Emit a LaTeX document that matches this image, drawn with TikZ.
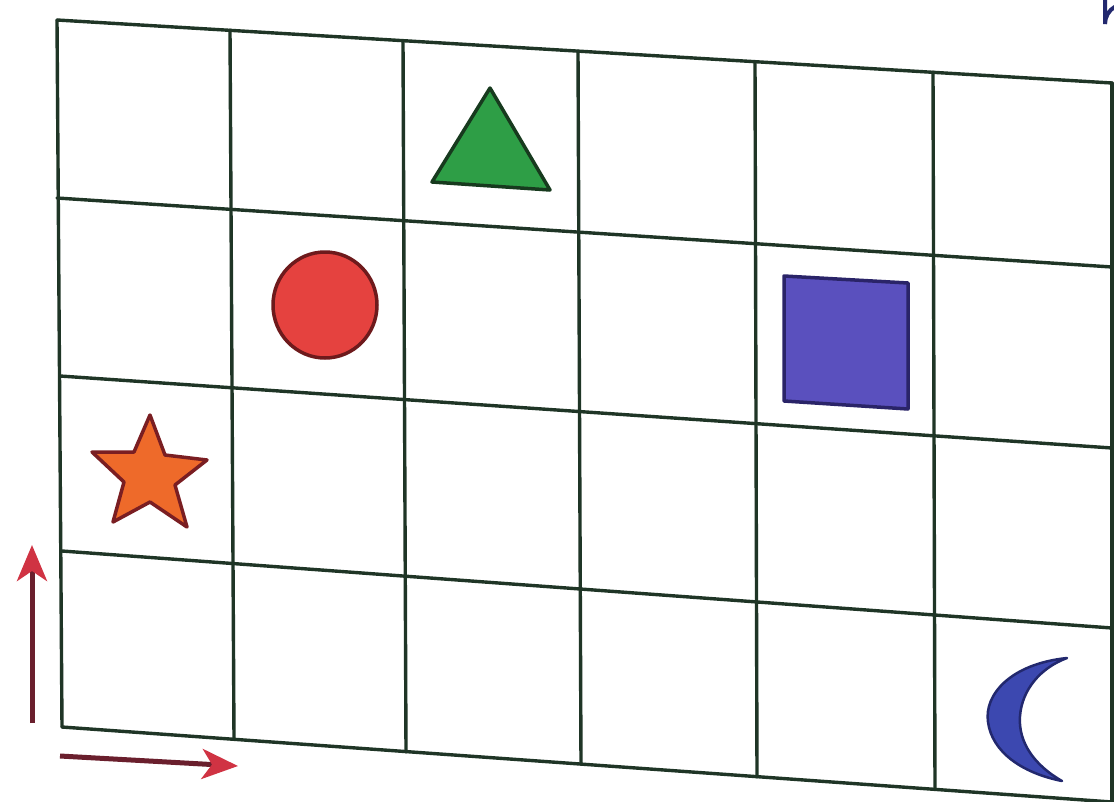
\documentclass[tikz,border=0pt]{standalone}
\usetikzlibrary{arrows.meta}
\definecolor{gridc}{HTML}{1F3526}
\definecolor{trifill}{HTML}{2E9E46}
\definecolor{triedge}{HTML}{173A1E}
\definecolor{circfill}{HTML}{E5423F}
\definecolor{circedge}{HTML}{6E1A1C}
\definecolor{sqfill}{HTML}{5A50BE}
\definecolor{sqedge}{HTML}{2A2468}
\definecolor{starfill}{HTML}{EE6A2A}
\definecolor{staredge}{HTML}{7A1E22}
\definecolor{moonfill}{HTML}{3C48B0}
\definecolor{moonedge}{HTML}{22286E}
\definecolor{arrshaft}{HTML}{6A1F2D}
\definecolor{arrhead}{HTML}{D03343}
\begin{document}
\begin{tikzpicture}[x=1pt,y=-1pt,
  gridline/.style={draw=gridc,line width=3.4pt,line cap=round},
  shapeedge/.style={line width=3.5pt,line join=round},
  axisarrow/.style={draw=arrshaft,line width=5pt,
    -{Stealth[length=36pt,width=30pt,inset=10pt,fill=arrhead,color=arrhead]}}]
\useasboundingbox (0,0) rectangle (1114,801);
\fill[white] (0,0) rectangle (1114,801);

% horizontal grid lines
\coordinate (h0l) at (57,20);   \coordinate (h0r) at (1112,83);
\coordinate (h1l) at (57,198);  \coordinate (h1r) at (1112,267);
\coordinate (h2l) at (60,376);  \coordinate (h2r) at (1112,448);
\coordinate (h3l) at (62,551);  \coordinate (h3r) at (1112,628);
\coordinate (h4l) at (62,727);  \coordinate (h4r) at (1112,802);
% vertical grid lines
\coordinate (v0t) at (57,20);   \coordinate (v0b) at (62,727);
\coordinate (v1t) at (230,30);  \coordinate (v1b) at (234,739);
\coordinate (v2t) at (403,41);  \coordinate (v2b) at (406,752);
\coordinate (v3t) at (578,51);  \coordinate (v3b) at (581,764);
\coordinate (v4t) at (755,62);  \coordinate (v4b) at (757,777);
\coordinate (v5t) at (933,72);  \coordinate (v5b) at (935,789);
\coordinate (v6t) at (1112,83); \coordinate (v6b) at (1112,802);

\foreach \i in {0,...,4} \draw[gridline] (h\i l) -- (h\i r);
\foreach \i in {0,...,6} \draw[gridline] (v\i t) -- (v\i b);

% partial blue outline at the top right corner
\draw[moonedge,line width=4pt] (1105,-2) -- (1105,24) arc[start angle=180,end angle=240,radius=20];

% green triangle
\draw[shapeedge,draw=triedge,fill=trifill] (490,88) -- (432,182) -- (550,190) -- cycle;

% red circle
\draw[shapeedge,draw=circedge,fill=circfill] (325,305) ellipse[x radius=52,y radius=53];

% blue square
\draw[shapeedge,draw=sqedge,fill=sqfill] (784,276) -- (908,283) -- (908,409) -- (784,401) -- cycle;

% star
\draw[shapeedge,draw=staredge,fill=starfill]
  (150,415) -- (165,455) -- (207,460) -- (175,485) -- (187,527)
  -- (150,502) -- (113,522) -- (124,482) -- (92,452) -- (134,452) -- cycle;

% crescent moon
\draw[line width=2.5pt,draw=moonedge,fill=moonfill,line join=round]
  (1067,658) .. controls (1010,664) and (984,695) .. (988,722)
  .. controls (992,752) and (1022,773) .. (1062,781)
  .. controls (1034,765) and (1018,742) .. (1020,716)
  .. controls (1022,690) and (1040,668) .. (1067,658) -- cycle;

% axis arrows
\coordinate (ayfrom) at (32,723); \coordinate (ayto) at (32,545);
\coordinate (axfrom) at (60,756); \coordinate (axto) at (238,766);
\draw[axisarrow] (ayfrom) -- (ayto);
\draw[axisarrow] (axfrom) -- (axto);
\end{tikzpicture}
\end{document}
